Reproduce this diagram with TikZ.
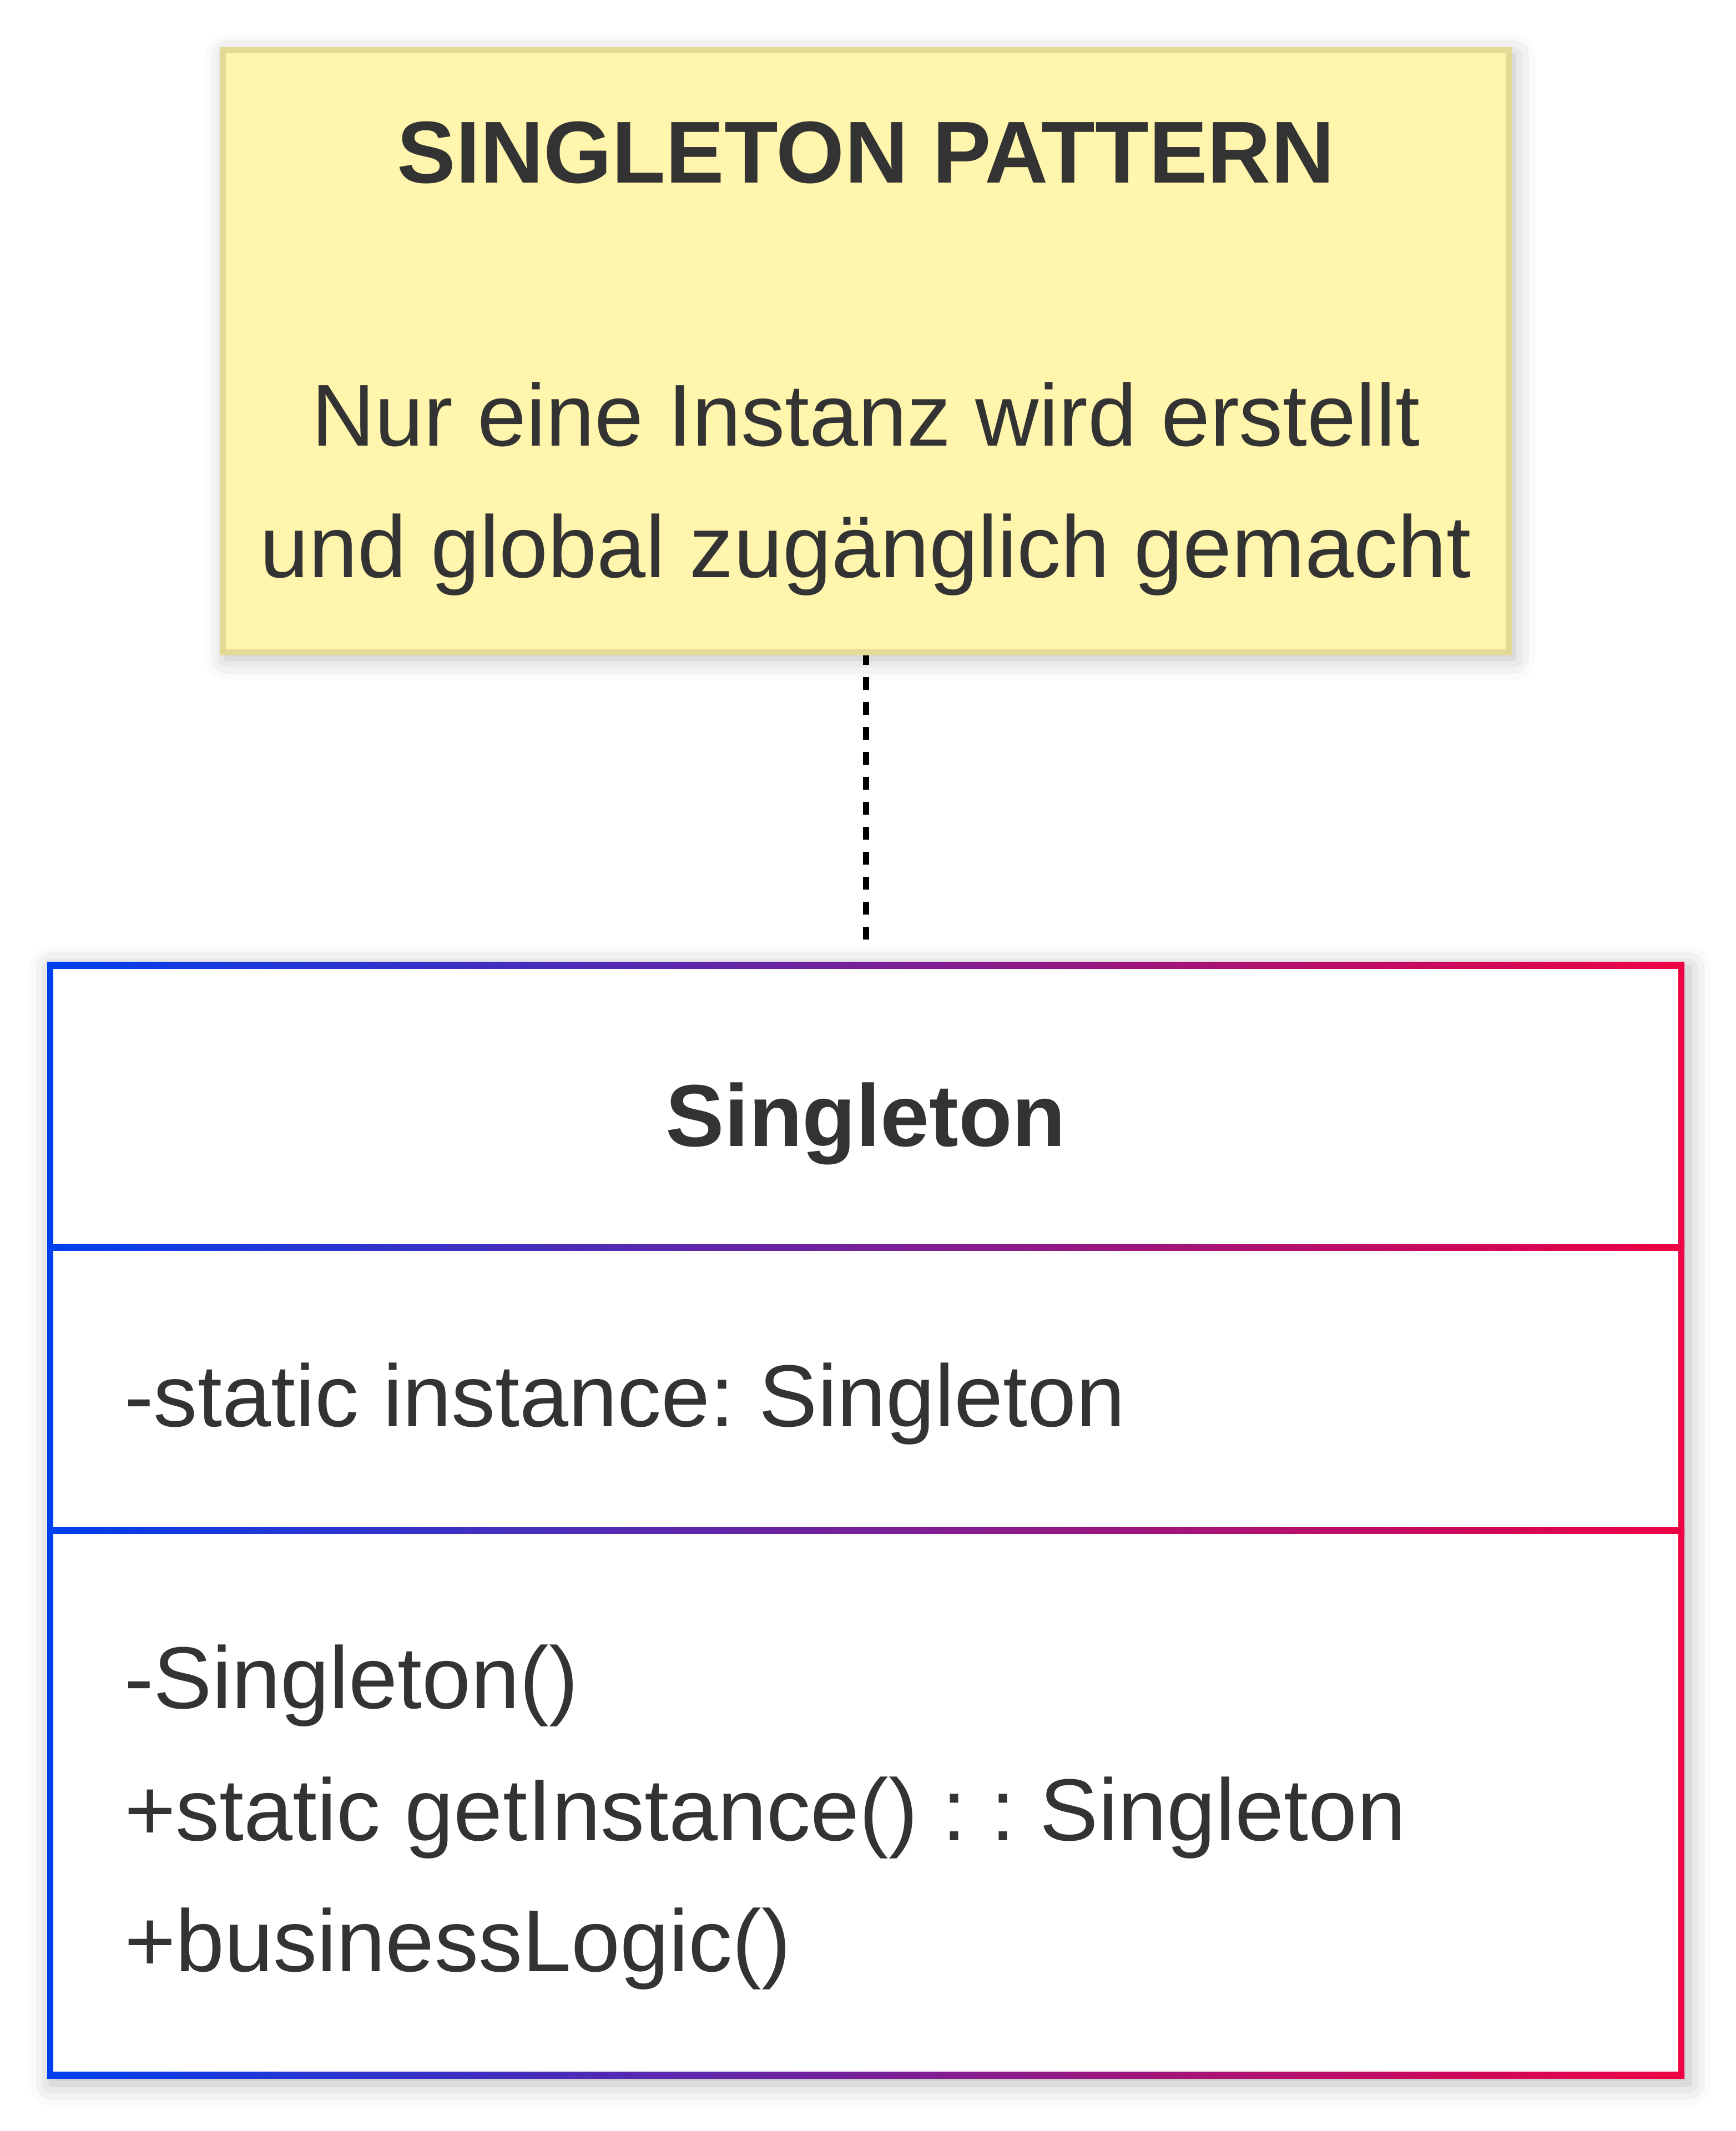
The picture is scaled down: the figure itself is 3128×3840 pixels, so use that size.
\documentclass[tikz,border=0pt]{standalone}
\usepackage{fontspec}
\setmainfont{Liberation Sans}
\usetikzlibrary{shadows.blur}
\definecolor{notefill}{HTML}{FFF5AD}
\definecolor{notedraw}{HTML}{E3DB95}
\definecolor{txt}{HTML}{333333}
\definecolor{umlblue}{HTML}{0040EE}
\definecolor{umlred}{HTML}{EE0044}
\tikzset{
  softshadow/.style={blur shadow={shadow xshift=8pt, shadow yshift=-10pt, shadow blur radius=40pt, shadow opacity=28}},
  notebox/.style={rectangle, draw=notedraw, fill=notefill, line width=11pt, inner sep=0pt, softshadow},
  classbg/.style={rectangle, fill=white, draw=none, inner sep=0pt, softshadow},
  hbar/.style={left color=umlblue, right color=umlred},
  bigtxt/.style={text=txt, inner sep=0pt, font=\fontsize{158.3}{190}\selectfont},
  boldtxt/.style={bigtxt, font=\fontsize{158.3}{190}\selectfont\bfseries},
  dotline/.style={draw=black, line width=11pt, dash pattern=on 22.5pt off 22.5pt, dash phase=6pt}
}
\frenchspacing
\begin{document}
\frenchspacing
\begin{tikzpicture}[x=1pt, y=-1pt]
\useasboundingbox (0,0) rectangle (3128,3840);
% note
\node[notebox, minimum width=2317pt, minimum height=1085pt] (note) at (1560,633) {};
\node[boldtxt, anchor=base] (title) at (1560,329) {SINGLETON PATTERN};
\node[bigtxt, anchor=base] (l1) at (1560,803) {Nur eine Instanz wird erstellt};
\node[bigtxt, anchor=base] (l2) at (1560,1040) {und global zugänglich gemacht};
% class box
\node[classbg, minimum width=2950pt, minimum height=2011pt] (cls) at (1560,2739.5) {};
\coordinate (lineend) at (1560,1693);
\draw[dotline] (note.south) -- (lineend);
% borders
\shade[hbar] (cls.north west) rectangle ([yshift=-12pt]cls.north east);
\shade[hbar] ([yshift=12pt]cls.south west) rectangle (cls.south east);
\shade[hbar] (85,2242) rectangle (3035,2253);
\shade[hbar] (85,2752) rectangle (3035,2763);
\fill[umlblue] (cls.north west) rectangle ([xshift=11pt]cls.south west);
\fill[umlred] ([xshift=-11pt]cls.north east) rectangle (cls.south east);
% class texts
\node[boldtxt, anchor=base] (cname) at (1560,2065) {Singleton};
\node[bigtxt, anchor=base west] (attr) at (224,2570) {-static instance: Singleton};
\node[bigtxt, anchor=base west] (m1) at (224,3078) {-Singleton()};
\node[bigtxt, anchor=base west] (m2) at (224,3316) {+static getInstance() : : Singleton};
\node[bigtxt, anchor=base west] (m3) at (224,3552) {+businessLogic()};
\end{tikzpicture}
\end{document}
